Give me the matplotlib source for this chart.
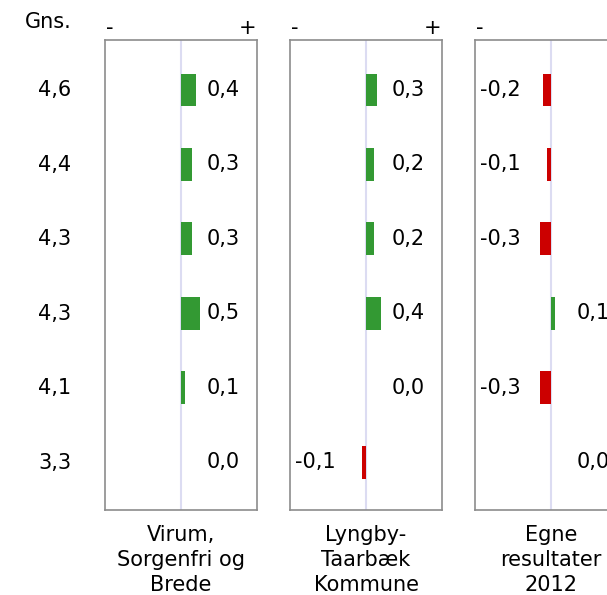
import matplotlib
matplotlib.use("Agg")
import matplotlib.pyplot as plt

gns = [4.6, 4.4, 4.3, 4.3, 4.1, 3.3]
panel_titles = ["Virum,\nSorgenfri og\nBrede", "Lyngby-\nTaarbæk\nKommune", "Egne\nresultater\n2012"]
virum = [0.4, 0.3, 0.3, 0.5, 0.1, 0.0]
lyngby = [0.3, 0.2, 0.2, 0.4, 0.0, -0.1]
egne = [-0.2, -0.1, -0.3, 0.1, -0.3, 0.0]
series = [virum, lyngby, egne]

W, H = 607, 595
fig = plt.figure(figsize=(W / 100, H / 100), dpi=100)
plt.rcParams['font.family'] = ['DejaVu Sans']

GREEN = "#339933"
RED = "#CC0000"
FS = 15

lefts = [105, 290, 475]
pw = 152
top, bottom = 40, 510
rows = list(range(len(gns)))

def fx(px):
    return px / W

def fy(py):
    return 1 - py / H

for left, vals, title in zip(lefts, series, panel_titles):
    ax = fig.add_axes([fx(left), fy(bottom), pw / W, (bottom - top) / H])
    ax.set_xlim(-2, 2)
    ax.set_ylim(5.64, -0.67)
    ax.axvline(0, color="#DCDCF2", lw=1.5, zorder=0)
    colors = [GREEN if v > 0 else RED for v in vals]
    ax.barh(rows, vals, height=0.44, color=colors, zorder=2)
    for r, v in zip(rows, vals):
        lab = f"{v:.1f}".replace(".", ",")
        if v < 0:
            ax.text(0.035, r, lab, transform=ax.get_yaxis_transform(), ha="left", va="center", fontsize=FS)
        else:
            ax.text(0.68, r, lab, ha="left", va="center", fontsize=FS)
    ax.set_xticks([])
    ax.set_yticks([])
    for s in ax.spines.values():
        s.set_color("#8C8C8C")
        s.set_linewidth(1.2)
    fig.text(fx(left + 5), fy(28), "-", ha="center", va="center", fontsize=FS)
    if left + pw - 9 < W - 8:
        fig.text(fx(left + pw - 9), fy(28), "+", ha="center", va="center", fontsize=FS)
    fig.text(fx(left + pw / 2), fy(560), title, ha="center", va="center", fontsize=FS, linespacing=1.3)

fig.text(fx(72), fy(22), "Gns.", ha="right", va="center", fontsize=FS)
row_px = [90, 165, 239, 314, 388, 463]
for r, g in zip(row_px, gns):
    fig.text(fx(71), fy(r), f"{g:.1f}".replace(".", ","), ha="right", va="center", fontsize=FS)

fig.savefig("out.png", dpi=100)
